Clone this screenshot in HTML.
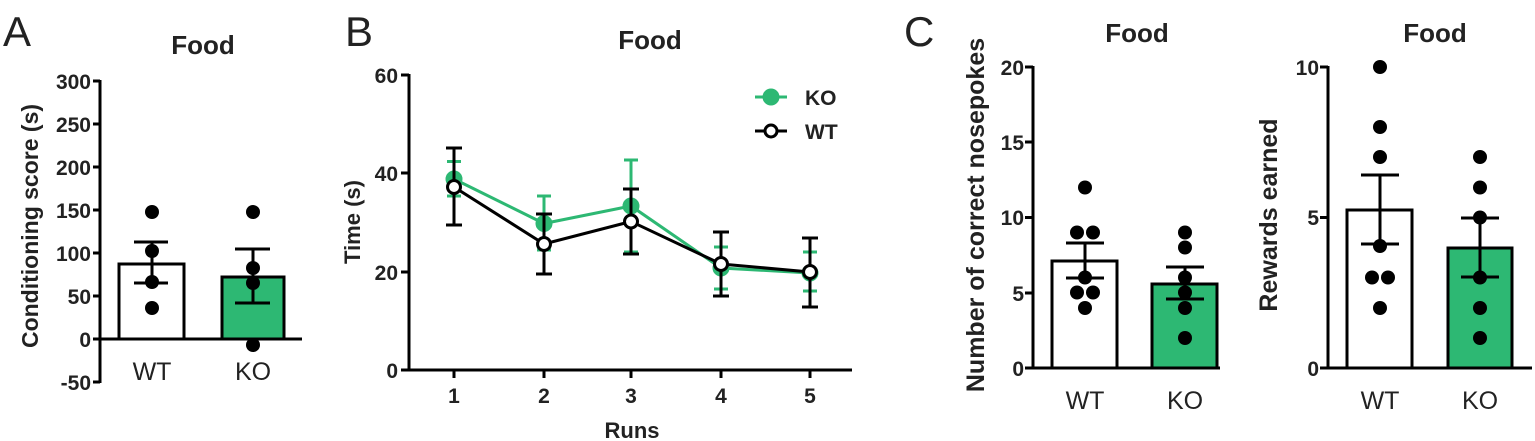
<!DOCTYPE html>
<html><head><meta charset="utf-8"><style>
html,body{margin:0;padding:0;background:#fff;}
svg{display:block;}
text{font-family:"Liberation Sans",Arial,sans-serif;fill:#222;}
.t{font-weight:bold;font-size:26px;}
.tk{font-weight:bold;font-size:21px;}
.cat{font-size:25px;}
.lab{font-size:42px;}
</style></head><body>
<svg width="1535" height="441" viewBox="0 0 1535 441" xmlns="http://www.w3.org/2000/svg">
<g stroke="#000" stroke-width="3" fill="none">
<line x1="100" y1="80" x2="100" y2="383"/>
<line x1="93" y1="81" x2="100" y2="81"/><line x1="93" y1="124" x2="100" y2="124"/><line x1="93" y1="167" x2="100" y2="167"/><line x1="93" y1="210" x2="100" y2="210"/><line x1="93" y1="253" x2="100" y2="253"/><line x1="93" y1="296" x2="100" y2="296"/><line x1="93" y1="382" x2="100" y2="382"/>
<rect x="119" y="264" width="65" height="75" fill="#fff"/>
<rect x="222" y="277" width="62" height="62" fill="#2db873"/>
<line x1="93" y1="339" x2="302" y2="339"/>
<line x1="152" y1="242" x2="152" y2="283"/><line x1="134" y1="242" x2="168" y2="242"/><line x1="134" y1="283" x2="168" y2="283"/>
<line x1="253" y1="249" x2="253" y2="303"/><line x1="235" y1="249" x2="270" y2="249"/><line x1="235" y1="303" x2="270" y2="303"/>
<line x1="409" y1="74" x2="409" y2="371"/>
<line x1="401" y1="75" x2="409" y2="75"/><line x1="401" y1="173" x2="409" y2="173"/><line x1="401" y1="272" x2="409" y2="272"/>
<line x1="401" y1="370" x2="852" y2="370"/>
<line x1="454" y1="370" x2="454" y2="378"/><line x1="544" y1="370" x2="544" y2="378"/><line x1="631" y1="370" x2="631" y2="378"/><line x1="721" y1="370" x2="721" y2="378"/><line x1="810" y1="370" x2="810" y2="378"/>
<g stroke="#2db873">
<polyline points="454,179 544,223.5 631,206 721,268 810,273"/>
<line x1="454" y1="161.5" x2="454" y2="196"/><line x1="447" y1="161.5" x2="461" y2="161.5"/><line x1="447" y1="196" x2="461" y2="196"/>
<line x1="544" y1="196" x2="544" y2="250"/><line x1="537" y1="196" x2="551" y2="196"/><line x1="537" y1="250" x2="551" y2="250"/>
<line x1="631" y1="160" x2="631" y2="252"/><line x1="624" y1="160" x2="638" y2="160"/><line x1="624" y1="252" x2="638" y2="252"/>
<line x1="721" y1="247" x2="721" y2="289"/><line x1="714" y1="247" x2="728" y2="247"/><line x1="714" y1="289" x2="728" y2="289"/>
<line x1="810" y1="252" x2="810" y2="291"/><line x1="803" y1="252" x2="817" y2="252"/><line x1="803" y1="291" x2="817" y2="291"/>
</g>
<g fill="#2db873" stroke="#2db873"><circle cx="454" cy="179" r="7"/><circle cx="544" cy="223.5" r="7"/><circle cx="631" cy="206" r="7"/><circle cx="721" cy="268" r="7"/><circle cx="810" cy="273" r="7"/></g>
<polyline points="454,187 544,244 631,221.5 721,264 810,272"/>
<line x1="454" y1="148" x2="454" y2="225"/><line x1="446" y1="148" x2="462" y2="148"/><line x1="446" y1="225" x2="462" y2="225"/>
<line x1="544" y1="214" x2="544" y2="274"/><line x1="536" y1="214" x2="552" y2="214"/><line x1="536" y1="274" x2="552" y2="274"/>
<line x1="631" y1="189" x2="631" y2="254"/><line x1="623" y1="189" x2="639" y2="189"/><line x1="623" y1="254" x2="639" y2="254"/>
<line x1="721" y1="232" x2="721" y2="296"/><line x1="713" y1="232" x2="729" y2="232"/><line x1="713" y1="296" x2="729" y2="296"/>
<line x1="810" y1="238" x2="810" y2="307"/><line x1="802" y1="238" x2="818" y2="238"/><line x1="802" y1="307" x2="818" y2="307"/>
<g fill="#fff"><circle cx="454" cy="187" r="6.5"/><circle cx="544" cy="244" r="6.5"/><circle cx="631" cy="221.5" r="6.5"/><circle cx="721" cy="264" r="6.5"/><circle cx="810" cy="272" r="6.5"/></g>
<line x1="755" y1="97" x2="787" y2="97" stroke="#2db873"/><circle cx="771" cy="97" r="7" fill="#2db873" stroke="#2db873"/>
<line x1="755" y1="131" x2="787" y2="131"/><circle cx="771" cy="131" r="6" fill="#fff"/>
<line x1="1033" y1="66" x2="1033" y2="369"/>
<line x1="1025" y1="67" x2="1033" y2="67"/><line x1="1025" y1="142" x2="1033" y2="142"/><line x1="1025" y1="217.5" x2="1033" y2="217.5"/><line x1="1025" y1="293" x2="1033" y2="293"/>
<rect x="1052" y="261" width="65" height="107" fill="#fff"/>
<rect x="1152" y="284" width="65" height="84" fill="#2db873"/>
<line x1="1025" y1="368" x2="1220" y2="368"/>
<line x1="1085" y1="243" x2="1085" y2="278"/><line x1="1066" y1="243" x2="1104" y2="243"/><line x1="1066" y1="278" x2="1104" y2="278"/>
<line x1="1185" y1="267" x2="1185" y2="299"/><line x1="1166" y1="267" x2="1204" y2="267"/><line x1="1166" y1="299" x2="1204" y2="299"/>
<line x1="1328" y1="66" x2="1328" y2="369"/>
<line x1="1320" y1="67" x2="1328" y2="67"/><line x1="1320" y1="217.5" x2="1328" y2="217.5"/>
<rect x="1347" y="210" width="65" height="158" fill="#fff"/>
<rect x="1448" y="248" width="64" height="120" fill="#2db873"/>
<line x1="1320" y1="368" x2="1532" y2="368"/>
<line x1="1380" y1="175" x2="1380" y2="244"/><line x1="1361" y1="175" x2="1399" y2="175"/><line x1="1361" y1="244" x2="1399" y2="244"/>
<line x1="1480" y1="218" x2="1480" y2="277"/><line x1="1461" y1="218" x2="1499" y2="218"/><line x1="1461" y1="277" x2="1499" y2="277"/>
</g>
<g fill="#000">
<circle cx="152" cy="212" r="7"/><circle cx="152" cy="251" r="7"/><circle cx="152" cy="282" r="7"/><circle cx="152" cy="308" r="7"/>
<circle cx="253" cy="212" r="7"/><circle cx="253" cy="268" r="7"/><circle cx="253" cy="283" r="7"/><circle cx="253" cy="345" r="7"/>
<circle cx="1085" cy="187.5" r="7"/><circle cx="1077" cy="232.5" r="7"/><circle cx="1093" cy="232.5" r="7"/><circle cx="1085" cy="277.5" r="7"/><circle cx="1077" cy="292.5" r="7"/><circle cx="1093" cy="292.5" r="7"/><circle cx="1085" cy="308" r="7"/>
<circle cx="1185" cy="232.5" r="7"/><circle cx="1185" cy="247.5" r="7"/><circle cx="1185" cy="277.5" r="7"/><circle cx="1185" cy="292.5" r="7"/><circle cx="1185" cy="308" r="7"/><circle cx="1185" cy="338" r="7"/>
<circle cx="1380" cy="67" r="7"/><circle cx="1380" cy="127" r="7"/><circle cx="1380" cy="157" r="7"/><circle cx="1380" cy="246" r="7"/><circle cx="1372" cy="277.5" r="7"/><circle cx="1388" cy="277.5" r="7"/><circle cx="1380" cy="308" r="7"/>
<circle cx="1480" cy="157" r="7"/><circle cx="1480" cy="187.5" r="7"/><circle cx="1480" cy="217.5" r="7"/><circle cx="1480" cy="277.5" r="7"/><circle cx="1480" cy="308" r="7"/><circle cx="1480" cy="338" r="7"/>
</g>
<text x="3" y="46" class="lab">A</text>
<text x="345" y="46" class="lab">B</text>
<text x="904" y="46" class="lab">C</text>
<text x="203" y="54" class="t" text-anchor="middle">Food</text>
<text x="650" y="49" class="t" text-anchor="middle">Food</text>
<text x="1137" y="42" class="t" text-anchor="middle">Food</text>
<text x="1435" y="42" class="t" text-anchor="middle">Food</text>
<g text-anchor="end">
<text x="91" y="89" class="tk">300</text><text x="91" y="132" class="tk">250</text><text x="91" y="175" class="tk">200</text><text x="91" y="218" class="tk">150</text><text x="91" y="261" class="tk">100</text><text x="91" y="304" class="tk">50</text><text x="91" y="347" class="tk">0</text><text x="91" y="390" class="tk">-50</text>
<text x="398" y="83" class="tk">60</text><text x="398" y="181" class="tk">40</text><text x="398" y="280" class="tk">20</text><text x="398" y="378" class="tk">0</text>
<text x="1024" y="75" class="tk">20</text><text x="1024" y="150" class="tk">15</text><text x="1024" y="225" class="tk">10</text><text x="1024" y="301" class="tk">5</text><text x="1024" y="376" class="tk">0</text>
<text x="1319" y="75" class="tk">10</text><text x="1319" y="225" class="tk">5</text><text x="1319" y="376" class="tk">0</text>
</g>
<g text-anchor="middle">
<text x="454" y="403" class="tk">1</text><text x="544" y="403" class="tk">2</text><text x="631" y="403" class="tk">3</text><text x="721" y="403" class="tk">4</text><text x="810" y="403" class="tk">5</text>
<text x="632" y="438" class="t" style="font-size:22px">Runs</text>
<text x="152" y="380" class="cat">WT</text><text x="253" y="380" class="cat">KO</text>
<text x="1085" y="409" class="cat">WT</text><text x="1185" y="409" class="cat">KO</text>
<text x="1380" y="409" class="cat">WT</text><text x="1480" y="409" class="cat">KO</text>
<text transform="translate(38,226) rotate(-90)" class="t" style="font-size:23px">Conditioning score (s)</text>
<text transform="translate(360,222) rotate(-90)" class="t" style="font-size:22px">Time (s)</text>
<text transform="translate(984,215) rotate(-90)" class="t" style="font-size:25px">Number of correct nosepokes</text>
<text transform="translate(1277,215) rotate(-90)" class="t" style="font-size:25px">Rewards earned</text>
</g>
<text x="805" y="105" class="t" style="font-size:21px">KO</text>
<text x="805" y="139" class="t" style="font-size:21px">WT</text>
</svg>
</body></html>
